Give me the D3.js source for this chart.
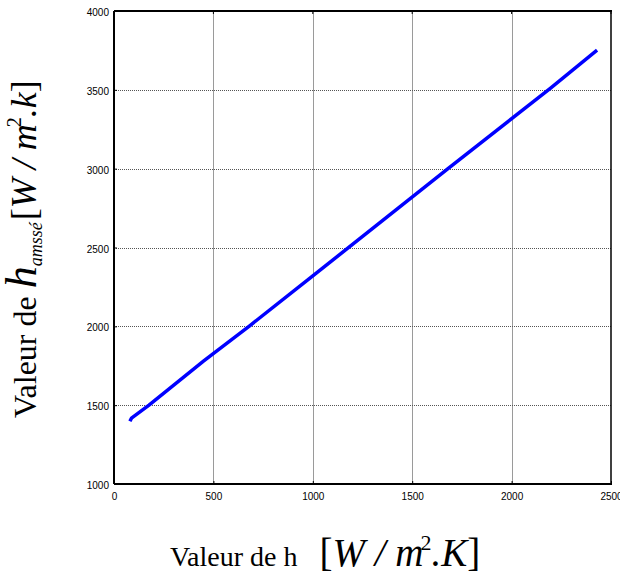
<!DOCTYPE html>
<html>
<head>
<meta charset="utf-8">
<script src="https://cdn.jsdelivr.net/npm/d3@7"></script>
<style>
  body { margin: 0; background: white; }
  svg { display: block; }
  .tick text { font-family: "Liberation Sans", Arial, sans-serif; font-size: 10px; fill: #000; }
</style>
</head>
<body>
<div id="chart"></div>
<script>
// h (W/m2.K) vs h corrigé
var hValues = [80, 88, 176, 450, 684, 1000, 1680, 2193, 2430];
var hCorr   = [1398, 1418, 1500, 1780, 2005, 2320, 3000, 3508, 3752];
var xTicks = [0, 500, 1000, 1500, 2000, 2500];
var yTicks = [1000, 1500, 2000, 2500, 3000, 3500, 4000];

var width = 620;
var height = 577;
var pLeft = 114, pRight = 611, pTop = 11, pBottom = 484;

var data = hValues.map((h, i) => ({ x: h, y: hCorr[i] }));

var svg = d3.select('#chart').append('svg')
    .attr('width', width)
    .attr('height', height);

var xScale = d3.scaleLinear().domain([0, 2500]).range([pLeft, pRight]);
var yScale = d3.scaleLinear().domain([1000, 4000]).range([pBottom, pTop]);

// grid
svg.append('g')
    .selectAll('line')
    .data(xTicks.slice(1, -1))
    .enter()
    .append('line')
    .attr('x1', d => Math.round(xScale(d)) + 0.5)
    .attr('x2', d => Math.round(xScale(d)) + 0.5)
    .attr('y1', pTop)
    .attr('y2', pBottom)
    .attr('stroke', '#9a9a9a')
    .attr('stroke-width', 1);

svg.append('g')
    .selectAll('line')
    .data(yTicks.slice(1, -1))
    .enter()
    .append('line')
    .attr('x1', pLeft)
    .attr('x2', pRight)
    .attr('y1', d => Math.round(yScale(d)) + 0.5)
    .attr('y2', d => Math.round(yScale(d)) + 0.5)
    .attr('stroke', '#555')
    .attr('stroke-dasharray', '1,1')
    .attr('stroke-width', 1);

// axes
var xAxis = d3.axisBottom(xScale).tickValues(xTicks).tickFormat(d3.format('d'))
    .tickSizeInner(-3).tickSizeOuter(0).tickPadding(9);
var yAxis = d3.axisLeft(yScale).tickValues(yTicks).tickFormat(d3.format('d'))
    .tickSizeInner(-3).tickSizeOuter(0).tickPadding(5);

svg.append('g')
    .attr('transform', `translate(0,${pBottom})`)
    .call(xAxis)
    .call(g => g.select('.domain').remove())
    .call(g => g.selectAll('.tick line').attr('stroke', '#000'));

svg.append('g')
    .attr('transform', `translate(${pLeft},0)`)
    .call(yAxis)
    .call(g => g.select('.domain').remove())
    .call(g => g.selectAll('.tick line').attr('stroke', '#000'))
    .call(g => g.selectAll('.tick text').attr('dy', '0.45em'));

// top tick marks
svg.append('g')
    .selectAll('line')
    .data(xTicks)
    .enter()
    .append('line')
    .attr('x1', d => xScale(d))
    .attr('x2', d => xScale(d))
    .attr('y1', pTop)
    .attr('y2', pTop + 3)
    .attr('stroke', '#000');

// frame
svg.append('line').attr('x1', pLeft).attr('x2', pRight + 1).attr('y1', pTop).attr('y2', pTop)
    .attr('stroke', '#000').attr('stroke-width', 2);
svg.append('line').attr('x1', pLeft).attr('x2', pRight + 1).attr('y1', pBottom).attr('y2', pBottom)
    .attr('stroke', '#000').attr('stroke-width', 2);
svg.append('line').attr('x1', pLeft).attr('x2', pLeft).attr('y1', pTop).attr('y2', pBottom)
    .attr('stroke', '#000').attr('stroke-width', 2);
svg.append('line').attr('x1', pRight).attr('x2', pRight).attr('y1', pTop).attr('y2', pBottom)
    .attr('stroke', '#000').attr('stroke-width', 1.5);

// curve
var line = d3.line().x(d => xScale(d.x)).y(d => yScale(d.y));
svg.append('path')
    .datum(data)
    .attr('d', line)
    .attr('fill', 'none')
    .attr('stroke', '#0000ff')
    .attr('stroke-width', 3.5);

// x label
var xLab = svg.append('text')
    .attr('x', 170)
    .attr('y', 566)
    .attr('font-family', '"Liberation Serif", "Times New Roman", serif')
    .attr('fill', '#000');
xLab.append('tspan').attr('font-size', 28).text('Valeur de h');
xLab.append('tspan').attr('dx', 22).attr('font-size', 39).text('[');
xLab.append('tspan').attr('font-size', 39).attr('font-style', 'italic').text('W / m');
xLab.append('tspan').attr('font-size', 22).attr('dy', -16).attr('dx', -3).text('2');
xLab.append('tspan').attr('font-size', 39).attr('dy', 16).attr('font-style', 'italic').text('.K');
xLab.append('tspan').attr('font-size', 39).text(']');

// y label
var yLab = svg.append('text')
    .attr('transform', 'translate(36,418) rotate(-90)')
    .attr('font-family', '"Liberation Serif", "Times New Roman", serif')
    .attr('fill', '#000');
yLab.append('tspan').attr('font-size', 32).text('Valeur de ');
yLab.append('tspan').attr('font-size', 44).attr('font-style', 'italic').text('h');
yLab.append('tspan').attr('font-size', 18).attr('font-style', 'italic').attr('dy', 6).text('amssé');
yLab.append('tspan').attr('font-size', 36).attr('dy', -6).attr('dx', 2).text('[');
yLab.append('tspan').attr('font-size', 36).attr('font-style', 'italic').text('W / m');
yLab.append('tspan').attr('font-size', 20).attr('dy', -15).attr('dx', -3).text('2');
yLab.append('tspan').attr('font-size', 36).attr('dy', 15).attr('font-style', 'italic').text('.k');
yLab.append('tspan').attr('font-size', 36).text(']');
</script>
</body>
</html>
